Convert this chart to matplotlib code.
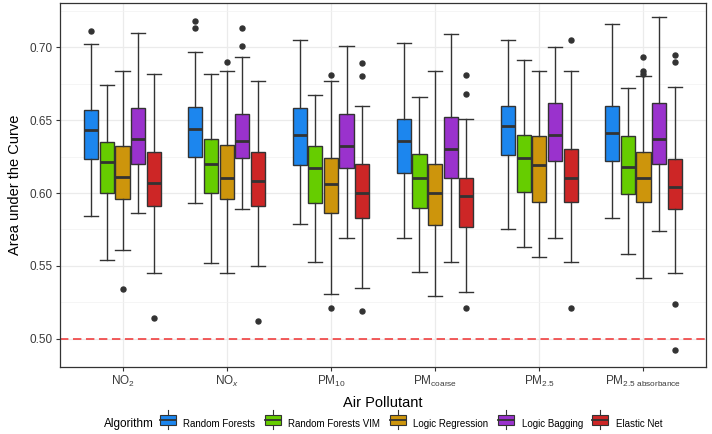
import matplotlib
matplotlib.use("Agg")
import matplotlib.pyplot as plt
from matplotlib.legend_handler import HandlerBase
from matplotlib.patches import Rectangle, Patch
from matplotlib.lines import Line2D

plt.rcParams['font.family'] = ['Liberation Sans', 'DejaVu Sans']
plt.rcParams['mathtext.fontset'] = 'custom'
plt.rcParams['mathtext.rm'] = 'Liberation Sans'
plt.rcParams['mathtext.it'] = 'Liberation Sans:italic'

# categories
pollutants = [r'NO$_2$', r'NO$_x$', r'PM$_{10}$', r'PM$_{\mathrm{coarse}}$',
              r'PM$_{2.5}$', r'PM$_{2.5\ \mathrm{absorbance}}$']
algorithms = ['Random Forests', 'Random Forests VIM', 'Logic Regression',
              'Logic Bagging', 'Elastic Net']
colors = ['#1C86EE', '#66CD00', '#CD950C', '#9A32CD', '#CD2626']

# box summaries, one row per algorithm, one value per pollutant
q1 = [
    [0.623, 0.625, 0.619, 0.614, 0.626, 0.622],
    [0.600, 0.600, 0.593, 0.590, 0.601, 0.599],
    [0.596, 0.596, 0.586, 0.578, 0.594, 0.594],
    [0.620, 0.624, 0.617, 0.610, 0.622, 0.620],
    [0.591, 0.591, 0.583, 0.577, 0.594, 0.589],
]
med = [
    [0.643, 0.644, 0.640, 0.636, 0.646, 0.641],
    [0.621, 0.620, 0.617, 0.610, 0.624, 0.618],
    [0.611, 0.610, 0.606, 0.600, 0.619, 0.610],
    [0.637, 0.636, 0.632, 0.630, 0.640, 0.637],
    [0.607, 0.608, 0.600, 0.598, 0.610, 0.604],
]
q3 = [
    [0.657, 0.659, 0.658, 0.651, 0.660, 0.660],
    [0.635, 0.637, 0.632, 0.627, 0.640, 0.639],
    [0.632, 0.633, 0.624, 0.620, 0.639, 0.628],
    [0.658, 0.654, 0.654, 0.652, 0.662, 0.662],
    [0.628, 0.628, 0.620, 0.610, 0.630, 0.623],
]
whislo = [
    [0.584, 0.593, 0.579, 0.569, 0.575, 0.583],
    [0.554, 0.552, 0.553, 0.546, 0.563, 0.558],
    [0.561, 0.545, 0.531, 0.529, 0.556, 0.542],
    [0.586, 0.589, 0.569, 0.553, 0.569, 0.574],
    [0.545, 0.550, 0.535, 0.532, 0.553, 0.545],
]
whishi = [
    [0.702, 0.697, 0.705, 0.703, 0.705, 0.716],
    [0.674, 0.682, 0.667, 0.666, 0.691, 0.672],
    [0.684, 0.684, 0.677, 0.684, 0.684, 0.680],
    [0.710, 0.693, 0.701, 0.709, 0.700, 0.721],
    [0.682, 0.677, 0.660, 0.651, 0.684, 0.673],
]
outliers = [
    [[0.711], [0.718, 0.713], [], [], [], []],
    [[], [], [], [], [], []],
    [[0.534], [0.690], [0.681, 0.521], [], [], [0.693, 0.684, 0.682]],
    [[], [0.713, 0.701], [], [], [], []],
    [[0.514], [0.512], [0.689, 0.680, 0.519], [0.681, 0.668, 0.521],
     [0.705, 0.521], [0.695, 0.690, 0.524, 0.492]],
]

edge = '#333333'
fig = plt.figure(figsize=(7.12, 4.34), dpi=100)
ax = fig.add_axes([60 / 712, 1 - 367 / 434, 646 / 712, 364 / 434])

ax.axhline(0.5, color='#F03030', lw=1.1, ls=(0, (5.5, 3)), zorder=1)

n_alg = len(algorithms)
slot = 0.75 / n_alg
for a in range(n_alg):
    stats = []
    pos = []
    for p in range(len(pollutants)):
        stats.append(dict(med=med[a][p], q1=q1[a][p], q3=q3[a][p],
                          whislo=whislo[a][p], whishi=whishi[a][p],
                          fliers=outliers[a][p]))
        pos.append(p + 1 + (a - (n_alg - 1) / 2) * slot)
    ax.bxp(stats, positions=pos, widths=slot * 0.9, capwidths=slot * 0.9,
           patch_artist=True, manage_ticks=False,
           boxprops=dict(facecolor=colors[a], edgecolor=edge, lw=1.0),
           medianprops=dict(color=edge, lw=2.0),
           whiskerprops=dict(color=edge, lw=1.0),
           capprops=dict(color=edge, lw=1.0),
           flierprops=dict(marker='o', markersize=3.6, markerfacecolor=edge,
                           markeredgecolor=edge), zorder=3)

ax.set_xlim(0.4, 6.6)
ax.set_ylim(0.4806, 0.7304)
ax.set_xticks(range(1, 7))
ax.set_xticklabels(pollutants)
ax.set_yticks([0.50, 0.55, 0.60, 0.65, 0.70])
ax.set_yticklabels(['0.50', '0.55', '0.60', '0.65', '0.70'])
ax.set_yticks([0.525, 0.575, 0.625, 0.675, 0.725], minor=True)
ax.set_xticks([], minor=True)
ax.grid(True, which='major', color='#EBEBEB', lw=0.9, zorder=0)
ax.grid(True, which='minor', axis='y', color='#F2F2F2', lw=0.5, zorder=0)
ax.set_axisbelow(True)
for s in ax.spines.values():
    s.set_color('#333333')
    s.set_linewidth(0.9)
ax.tick_params(which='major', length=3, width=0.8, color='#333333',
               labelsize=8.5, labelcolor='#3A3A3A', pad=2)
ax.tick_params(which='minor', length=0)
ax.set_xlabel('Air Pollutant', fontsize=10.5, labelpad=5)
ax.set_ylabel('Area under the Curve', fontsize=10.5, labelpad=6)


class BoxKey(HandlerBase):
    def create_artists(self, legend, orig, xd, yd, w, h, fs, trans):
        c = orig.get_facecolor()
        cx = xd + w / 2
        bh = h * 1.0
        by = yd + (h - bh) / 2
        arts = [
            Line2D([cx, cx], [yd - 3, yd + h + 3], color=edge, lw=0.8),
            Rectangle((xd, by), w, bh, facecolor=c, edgecolor=edge, lw=0.8),
            Line2D([xd, xd + w], [yd + h / 2, yd + h / 2], color=edge, lw=1.3),
        ]
        for art in arts:
            art.set_transform(trans)
        return arts


handles = [Patch(facecolor=c, label=l) for c, l in zip(colors, algorithms)]
fig.text(104 / 712, 1 - 424 / 434, 'Algorithm', fontsize=8.5, va='center',
         ha='left')
fig.legend(handles=handles, loc='center left',
           bbox_to_anchor=(160 / 712, 1 - 424 / 434), ncol=5, frameon=False,
           fontsize=7, handler_map={Patch: BoxKey()}, handlelength=1.6,
           handleheight=1.3, handletextpad=0.8, columnspacing=1.0,
           borderpad=0, borderaxespad=0)

fig.savefig('out.png', dpi=100)
